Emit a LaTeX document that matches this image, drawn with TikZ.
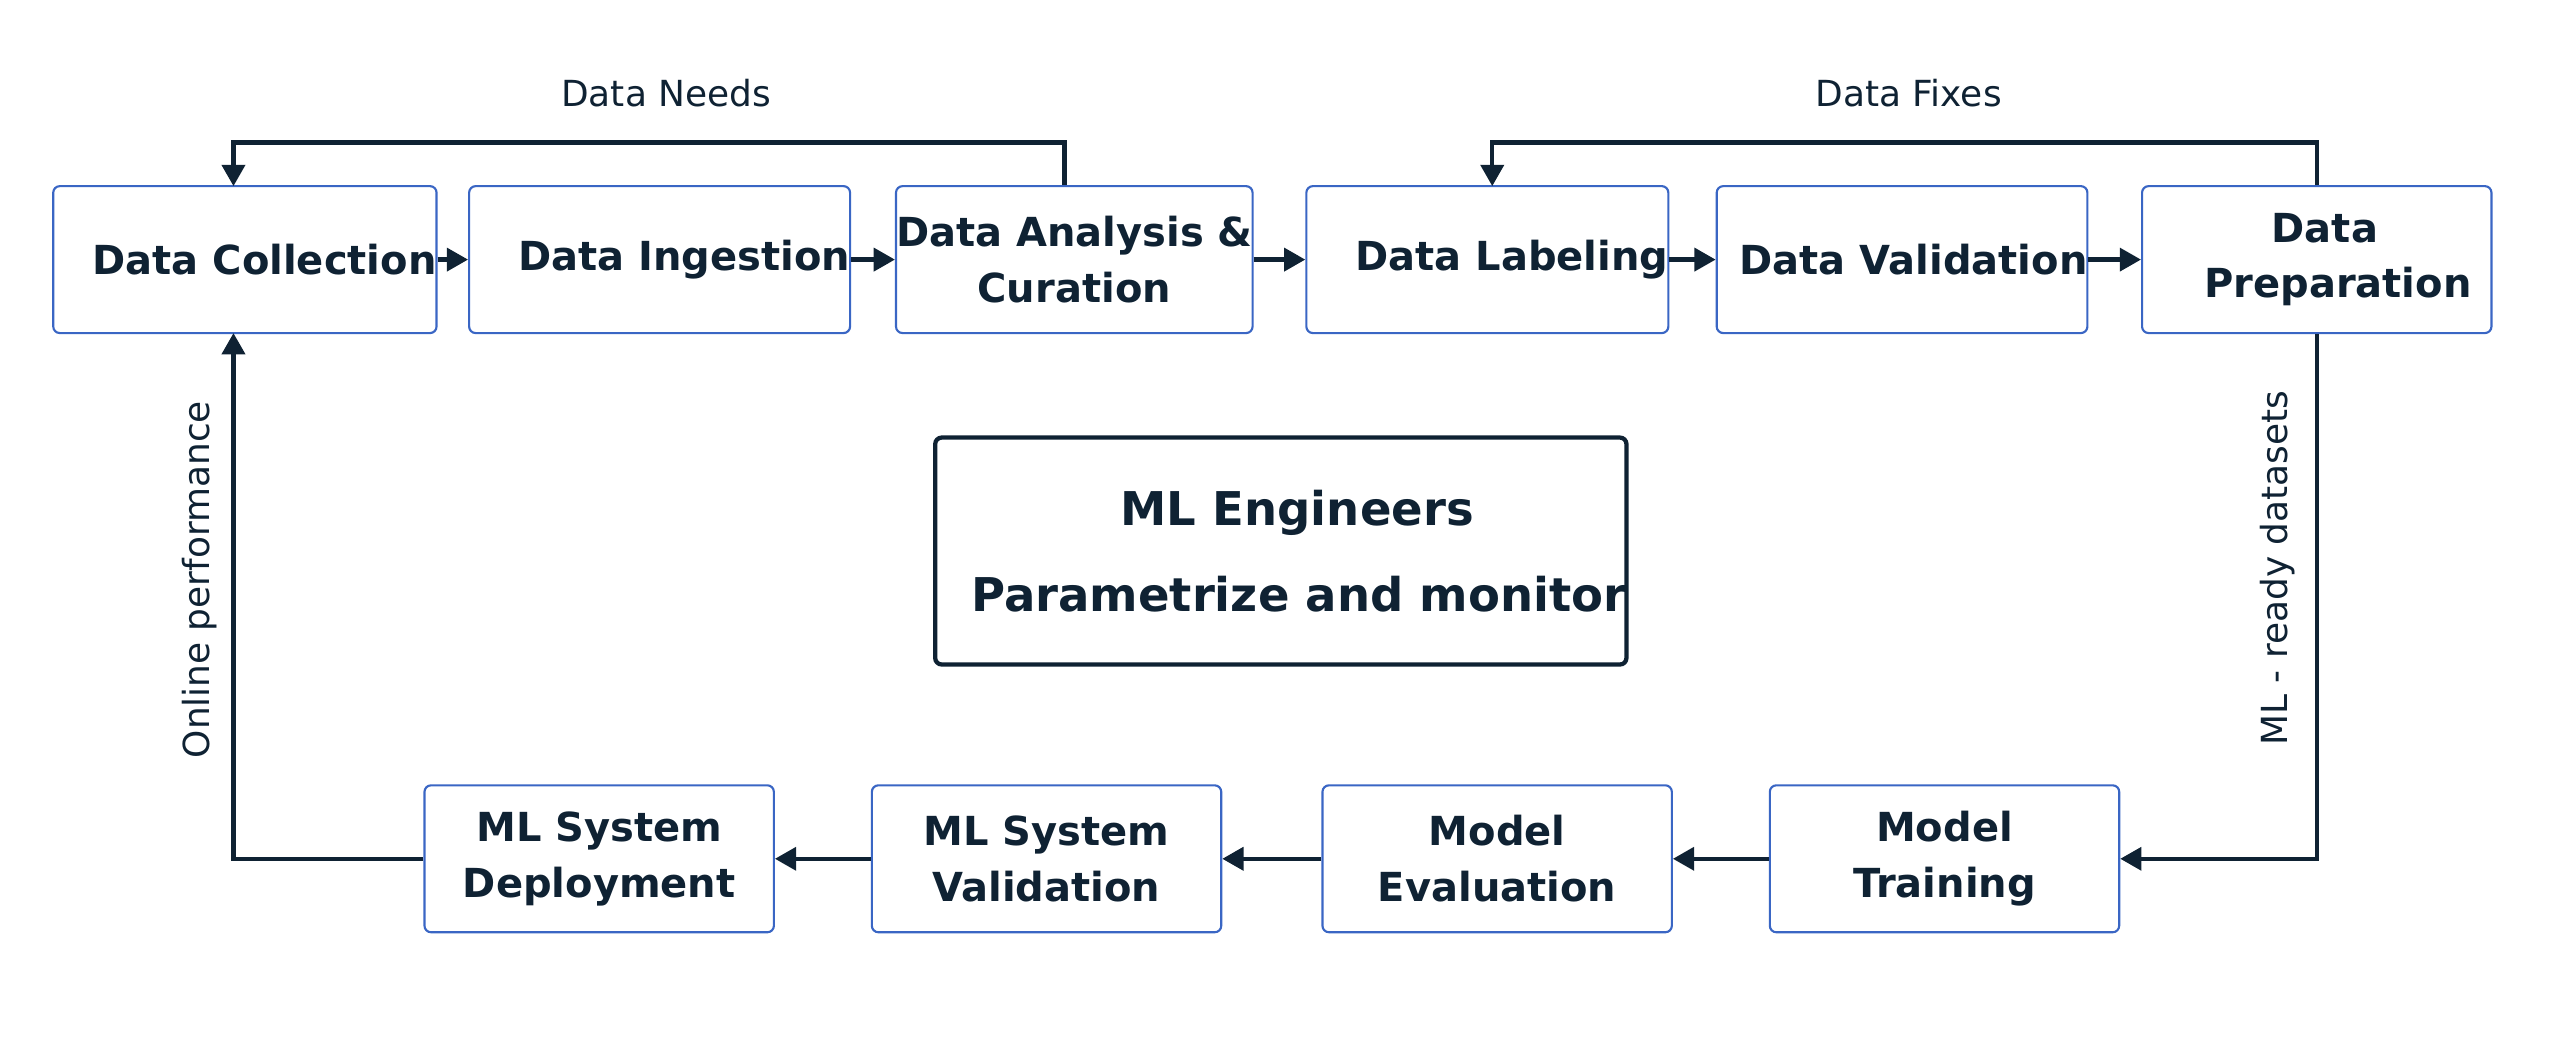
\documentclass[tikz,border=0pt]{standalone}
\usepackage{fontspec}
\setmainfont{DejaVu Sans}
\usetikzlibrary{arrows.meta}
\definecolor{ink}{HTML}{0F2233}
\definecolor{bord}{HTML}{3A66C4}
\begin{document}
\begin{tikzpicture}[x=1pt,y=-1pt,
  box/.style={draw=bord,line width=1.3pt,rounded corners=4pt,minimum width=214pt,minimum height=90pt,inner sep=0pt,align=center,font=\fontsize{24.5}{34}\selectfont\bfseries,text=ink},
  arr/.style={draw=ink,line width=2.6pt,-{Triangle[length=13pt,width=14pt]}},
  lab/.style={font=\fontsize{22}{26}\selectfont,text=ink}]
\useasboundingbox (0,0) rectangle (1568,649);
\node[box] (dc) at (150,159) {\hspace*{24pt}Data Collection};
\node[box] (di) at (404,159) {\hspace*{30pt}Data Ingestion};
\node[box] (da) at (658,159) {Data Analysis \&\\Curation};
\node[box] (dl) at (911,159) {\hspace*{30pt}Data Labeling};
\node[box] (dv) at (1165,159) {\hspace*{14pt}Data Validation};
\node[box] (dp) at (1419,159) {\hspace*{10pt}Data\\\hspace*{26pt}Preparation};
\node[box] (mt) at (1191,526) {Model\\Training};
\node[box] (me) at (917,526) {Model\\Evaluation};
\node[box] (sv) at (641,526) {ML System\\Validation};
\node[box] (sd) at (367,526) {ML System\\Deployment};
\node[draw=ink,line width=2.6pt,rounded corners=4pt,minimum width=387pt,minimum height=139pt,inner sep=0pt,align=center,text=ink,font=\fontsize{28.5}{53}\selectfont\bfseries] (ml) at (784.5,337.5) {\hspace*{20pt}ML Engineers\\\hspace*{22pt}Parametrize and monitor};
\draw[arr] (dc) -- (di);
\draw[arr] (di) -- (da);
\draw[arr] (da) -- (dl);
\draw[arr] (dl) -- (dv);
\draw[arr] (dv) -- (dp);
\draw[arr] (mt) -- (me);
\draw[arr] (me) -- (sv);
\draw[arr] (sv) -- (sd);
\draw[arr] (da.north) ++(-6,0) coordinate (a1) -- ++(0,-26) -| (143,114);
\draw[arr] (dp.north) -- ++(0,-26) -| (914,114);
\draw[arr] (dp.south) |- (mt.east);
\draw[arr] (sd.west) -| (143,204);
\node[lab] (t1) at (408,57) {Data Needs};
\node[lab] (t2) at (1169,57) {Data Fixes};
\node[lab,rotate=90] (t3) at (122,355) {Online performance};
\node[lab,rotate=90] (t4) at (1395,348) {ML - ready datasets};
\end{tikzpicture}
\end{document}
